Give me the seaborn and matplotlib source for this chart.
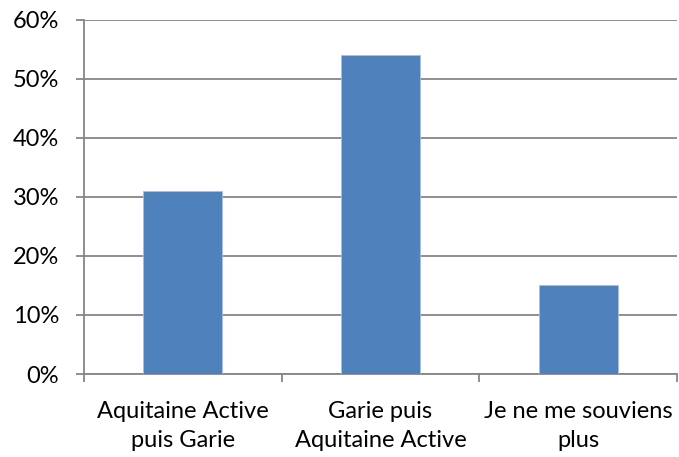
import pandas as pd
import numpy as np
import seaborn as sns
import matplotlib.pyplot as plt
from matplotlib.ticker import PercentFormatter, FixedLocator

categories = ["Aquitaine Active\npuis Garie", "Garie puis\nAquitaine Active", "Je ne me souviens\nplus"]
shares = [0.31, 0.54, 0.15]
yticks = [0, 0.1, 0.2, 0.3, 0.4, 0.5, 0.6]

df = pd.DataFrame({"cat": categories, "share": shares})

sns.set_style("white")
plt.rcParams['font.family'] = ['Lato', 'DejaVu Sans']

fig = plt.figure(figsize=(6.79, 4.57), dpi=100)
ax = fig.add_axes([0.1237, 0.1816, 0.8733, 0.7754])

sns.barplot(data=df, x="cat", y="share", color="#4F81BD", saturation=1,
            width=0.4, edgecolor="#A7BFDE", linewidth=0.6, ax=ax, zorder=3)

ax.set_xlim(-0.5, 2.5)
ax.set_ylim(0, 0.6)
ax.set_yticks(yticks)
ax.yaxis.set_major_formatter(PercentFormatter(1.0, decimals=0))
ax.grid(axis="y", color="#868686", linewidth=1.3, zorder=0)
ax.set_axisbelow(True)

for s in ["top", "right"]:
    ax.spines[s].set_visible(False)
for s in ["left", "bottom"]:
    ax.spines[s].set_color("#868686")
    ax.spines[s].set_linewidth(1.3)

ax.tick_params(axis="y", length=6, width=1.3, color="#868686", pad=12, labelsize=17,
               labelcolor="black", direction="out", left=True)
ax.xaxis.set_minor_locator(FixedLocator([-0.5, 0.5, 1.5, 2.5]))
ax.tick_params(axis="x", which="major", length=0, pad=19.5, labelsize=17, labelcolor="black")
ax.tick_params(axis="x", which="minor", length=6, width=1.3, color="#868686", direction="out", bottom=True)
for lab in ax.get_xticklabels():
    lab.set_horizontalalignment("center")
    lab.set_linespacing(1.45)

ax.set_xlabel("")
ax.set_ylabel("")

fig.savefig("out.png", dpi=100)
